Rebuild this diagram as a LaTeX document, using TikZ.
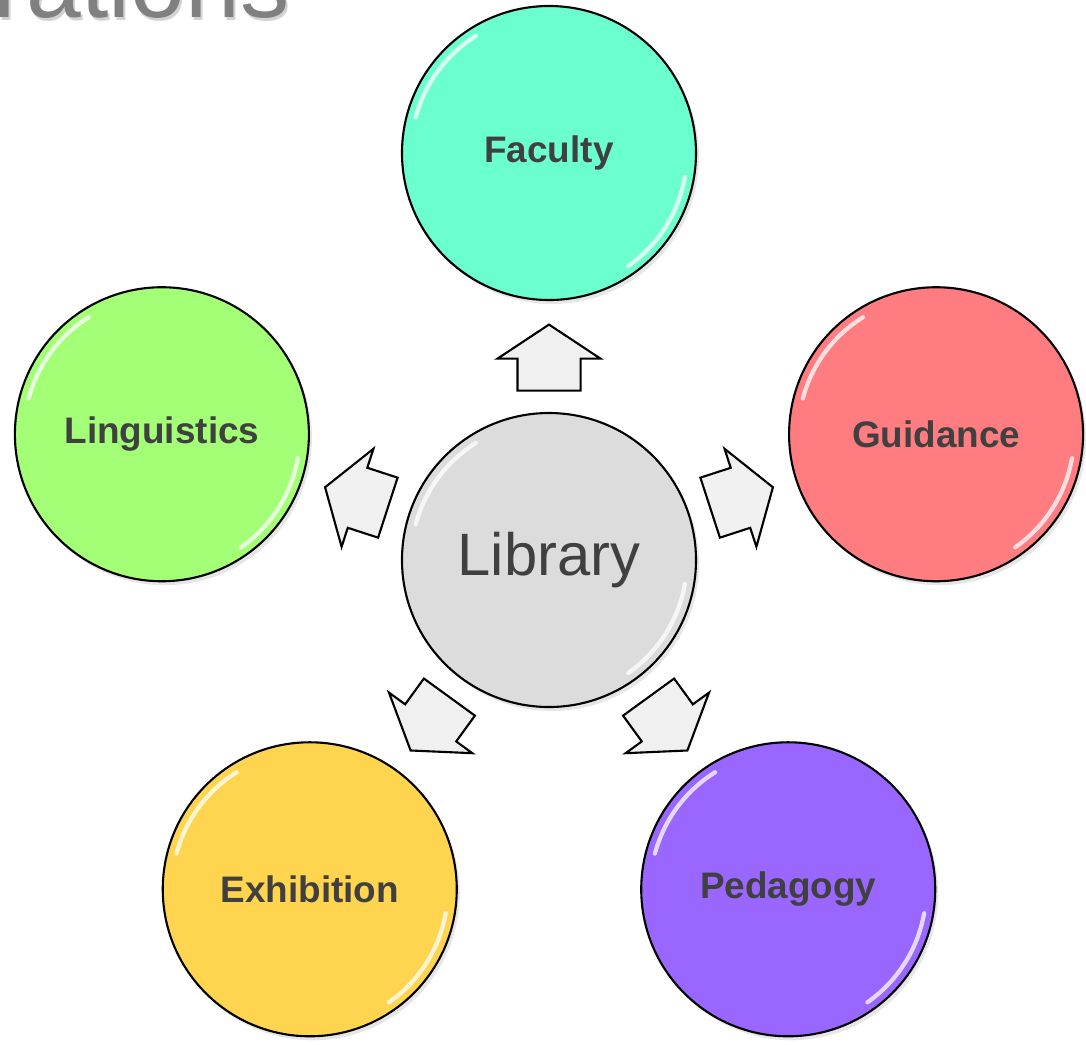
\documentclass[tikz,border=0pt]{standalone}
\usepackage{fontspec}
\setmainfont{Liberation Sans}
\usetikzlibrary{shapes.arrows, shadows}

\definecolor{facultycol}{HTML}{6BFFCF}
\definecolor{guidancecol}{HTML}{FF7C80}
\definecolor{linguisticscol}{HTML}{A2FF76}
\definecolor{exhibitioncol}{HTML}{FFD54F}
\definecolor{pedagogycol}{HTML}{9966FF}
\definecolor{librarycol}{HTML}{DCDCDC}
\definecolor{labelcol}{HTML}{404040}

\begin{document}
\begin{tikzpicture}[
    topic/.style={circle, draw=black, line width=0.6pt, minimum size=2.94cm, inner sep=0pt,
        font=\fontsize{10.5pt}{12pt}\selectfont\bfseries, text=labelcol,
        drop shadow={opacity=0.2, shadow xshift=0.03cm, shadow yshift=-0.04cm}},
    hub/.style={topic, font=\fontsize{17pt}{20pt}\selectfont, fill=librarycol},
    blockarrow/.style={single arrow, draw=black, line width=0.6pt, fill=gray!12,
        inner xsep=0pt, inner ysep=0.305cm, minimum height=0.66cm,
        single arrow head extend=0.2cm, single arrow tip angle=113},
    gloss/.style={white, line width=1.2pt, line cap=round, opacity=0.75},
    heading/.style={anchor=base east, inner sep=0pt, font=\fontsize{28pt}{32pt}\selectfont}
]

\useasboundingbox (-5.49,-4.84) rectangle (5.37,5.60);
\clip (-5.49,-4.84) rectangle (5.37,5.60);

% Title, cut off by the frame
\node[heading, text=gray!35] (titleshadow) at (-2.57,5.40) {rations};
\node[heading, text=gray] (title) at (-2.59,5.43) {rations};

% Centre
\node[hub] (library) at (0,0) {Library};

% Outer topics on a pentagon
\node[topic, fill=facultycol] (faculty) at (90:4.07) {Faculty};
\node[topic, fill=guidancecol] (guidance) at (18:4.07) {Guidance};
\node[topic, fill=pedagogycol] (pedagogy) at (-54:4.07) {Pedagogy};
\node[topic, fill=exhibitioncol] (exhibition) at (-126:4.07) {Exhibition};
\node[topic, fill=linguisticscol] (linguistics) at (162:4.07) {Linguistics};

% Glossy highlights
\foreach \n in {library, faculty, guidance, pedagogy, exhibition, linguistics} {
    \draw[gloss, shift={(\n.center)}] (122:1.38) arc[start angle=122, end angle=165, radius=1.38];
    \draw[gloss, shift={(\n.center)}] (-10:1.38) arc[start angle=-10, end angle=-55, radius=1.38];
}

% Block arrows from the library outwards
\node[blockarrow, rotate=90] (tofaculty) at (90:1.92) {};
\node[blockarrow, rotate=18] (toguidance) at (18:1.92) {};
\node[blockarrow, rotate=-54] (topedagogy) at (-54:1.92) {};
\node[blockarrow, rotate=-126] (toexhibition) at (-126:1.92) {};
\node[blockarrow, rotate=162] (tolinguistics) at (162:1.92) {};

\end{tikzpicture}
\end{document}
